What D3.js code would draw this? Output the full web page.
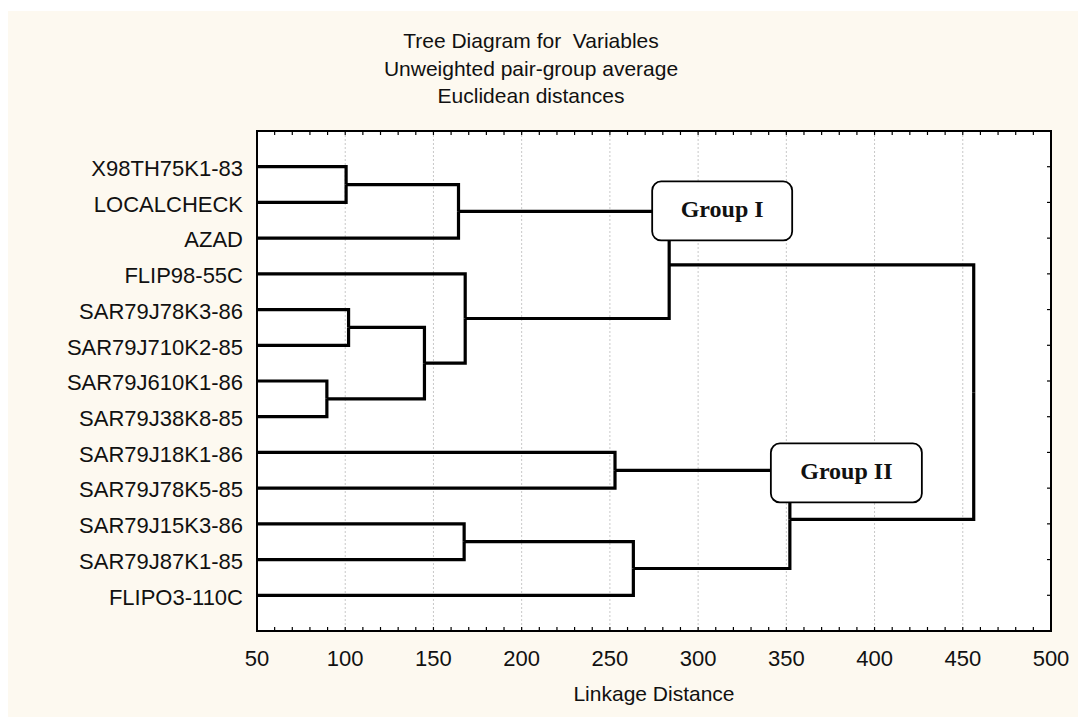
<!DOCTYPE html>
<html lang="en">
<head>
    <meta charset="UTF-8">
    <title>Tree Diagram for Variables</title>

    <script src="https://d3js.org/d3.v7.min.js"></script>

    <style>
        body { margin: 0; background: #ffffff; }
        text { font-family: Arial, "Liberation Sans", sans-serif; fill: #111; }
        .link { fill: none; stroke: #000; stroke-width: 3.2px; stroke-linejoin: miter; }
        .grid { stroke: #c8c8c8; stroke-width: 1px; stroke-dasharray: 2,2; }
        .tick-mark { stroke: #000; stroke-width: 1.2px; }
        .group-box { fill: #ffffff; stroke: #000; stroke-width: 1.8px; }
        .group-label { font-family: "Times New Roman", "Liberation Serif", serif; font-weight: bold; }
    </style>
</head>
<body>
<script>

    // Variables, top to bottom as they appear on the tree
    var labels = ["X98TH75K1-83", "LOCALCHECK", "AZAD", "FLIP98-55C",
        "SAR79J78K3-86", "SAR79J710K2-85", "SAR79J610K1-86", "SAR79J38K8-85",
        "SAR79J18K1-86", "SAR79J78K5-85", "SAR79J15K3-86", "SAR79J87K1-85",
        "FLIPO3-110C"];

    // Joins: [first, second, linkage distance]
    // indexes below 13 are variables, 13 and up are earlier joins
    var mergeLeft   = [0, 13, 6, 4, 16, 3, 14, 10, 8, 20, 21, 19];
    var mergeRight  = [1, 2, 7, 5, 15, 17, 18, 11, 9, 12, 22, 23];
    var mergeHeight = [100.5, 164.2, 89.6, 101.9, 144.9, 168, 283.6, 167.4, 252.9, 263.3, 352, 456.2];

    var xTicks = [50, 100, 150, 200, 250, 300, 350, 400, 450, 500];
    var titleLines = ["Tree Diagram for  Variables", "Unweighted pair-group average", "Euclidean distances"];

    // Group call-outs: which join they label
    var groupNames = ["Group I", "Group II"];
    var groupJoin  = [19, 23];

    var W = 1078, H = 717;
    var plot = {left: 257, right: 1051, top: 131, bottom: 631};

    var svg = d3.select("body")
        .append("svg")
        .attr("width", W)
        .attr("height", H);

    // cream panel
    svg.append("rect")
        .attr("x", 8).attr("y", 11)
        .attr("width", W - 8).attr("height", H - 11)
        .attr("fill", "#fdf9f0");

    // Scales
    var x = d3.scaleLinear().domain([50, 500]).range([plot.left, plot.right]);
    var y = d3.scalePoint().domain(labels).range([plot.top, plot.bottom]).padding(1);

    // plot background
    svg.append("rect")
        .attr("x", plot.left).attr("y", plot.top)
        .attr("width", plot.right - plot.left).attr("height", plot.bottom - plot.top)
        .attr("fill", "#fff");

    // vertical dotted grid
    svg.append("g").selectAll("line")
        .data(xTicks.slice(1, -1))
        .join("line")
        .attr("class", "grid")
        .attr("x1", function(d) { return x(d); })
        .attr("x2", function(d) { return x(d); })
        .attr("y1", plot.top)
        .attr("y2", plot.bottom);

    // build node positions
    var nodes = labels.map(function(d) { return {h: x.domain()[0], y: y(d)}; });
    mergeLeft.forEach(function(a, i) {
        var b = mergeRight[i];
        nodes.push({h: mergeHeight[i], y: (nodes[a].y + nodes[b].y) / 2, kids: [a, b]});
    });

    // elbow links
    var links = [];
    nodes.forEach(function(p) {
        if (!p.kids) return;
        p.kids.forEach(function(k) {
            links.push({from: nodes[k], to: p});
        });
    });

    svg.append("g").selectAll("path")
        .data(links)
        .join("path")
        .attr("class", "link")
        .attr("d", function(d) {
            return "M" + x(d.from.h) + "," + d.from.y +
                "H" + x(d.to.h) + "V" + d.to.y;
        });

    // Group boxes (placed to the right of the join they label)
    var boxW = [140, 151], boxH = 59;
    var boxDx = [-17, -19], boxDy = [-83.5, -76];
    groupJoin.forEach(function(j, i) {
        var nd = nodes[j];
        var bx = x(nd.h) + boxDx[i];
        var by = nd.y + boxDy[i];
        var g = svg.append("g");
        g.append("rect")
            .attr("class", "group-box")
            .attr("x", bx).attr("y", by)
            .attr("width", boxW[i]).attr("height", boxH)
            .attr("rx", 9).attr("ry", 9);
        g.append("text")
            .attr("class", "group-label")
            .attr("x", bx + boxW[i] / 2)
            .attr("y", by + boxH / 2 + 6)
            .attr("text-anchor", "middle")
            .style("font-size", "24px")
            .text(groupNames[i]);
    });

    // Frame
    svg.append("rect")
        .attr("x", plot.left).attr("y", plot.top)
        .attr("width", plot.right - plot.left).attr("height", plot.bottom - plot.top)
        .attr("fill", "none").attr("stroke", "#000").attr("stroke-width", 2);

    // minor ticks every 10 units on top and bottom, inward
    var minor = d3.range(50, 501, 10);
    var tk = svg.append("g");
    tk.selectAll(".tb").data(minor).join("line")
        .attr("class", "tick-mark")
        .attr("x1", function(d) { return x(d); }).attr("x2", function(d) { return x(d); })
        .attr("y1", plot.bottom).attr("y2", plot.bottom - 4);
    tk.selectAll(".tt").data(minor).join("line")
        .attr("class", "tick-mark")
        .attr("x1", function(d) { return x(d); }).attr("x2", function(d) { return x(d); })
        .attr("y1", plot.top).attr("y2", plot.top + 4);
    // right side ticks at each variable
    tk.selectAll(".tr").data(labels).join("line")
        .attr("class", "tick-mark")
        .attr("x1", plot.right).attr("x2", plot.right - 4)
        .attr("y1", function(d) { return y(d); }).attr("y2", function(d) { return y(d); });

    // Variable names
    svg.append("g").selectAll("text")
        .data(labels)
        .join("text")
        .attr("x", plot.left - 14)
        .attr("y", function(d) { return y(d); })
        .attr("dy", "0.42em")
        .attr("text-anchor", "end")
        .style("font-size", "22px")
        .text(function(d) { return d; });

    // X tick labels
    svg.append("g").selectAll("text")
        .data(xTicks)
        .join("text")
        .attr("x", function(d) { return x(d); })
        .attr("y", plot.bottom + 35)
        .attr("text-anchor", "middle")
        .style("font-size", "22px")
        .text(function(d) { return d; });

    // X axis title
    svg.append("text")
        .attr("x", (plot.left + plot.right) / 2)
        .attr("y", 701)
        .attr("text-anchor", "middle")
        .style("font-size", "21px")
        .text("Linkage Distance");

    // Title
    svg.append("g").selectAll("text")
        .data(titleLines)
        .join("text")
        .attr("x", 531)
        .attr("y", function(d, i) { return 48 + i * 27.5; })
        .attr("text-anchor", "middle")
        .style("font-size", "21px")
        .style("white-space", "pre")
        .text(function(d) { return d; });

</script>
</body>
</html>
